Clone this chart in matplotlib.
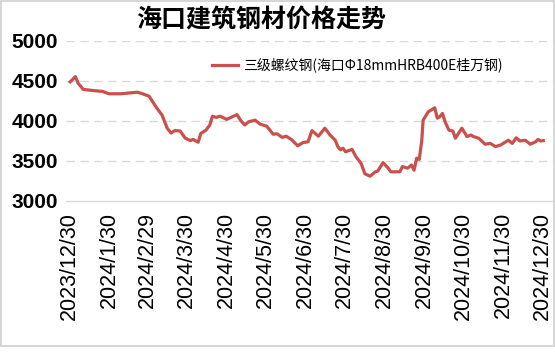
import pandas as pd
import matplotlib
matplotlib.use('Agg')
import matplotlib.pyplot as plt
from matplotlib.patches import Rectangle

plt.rcParams['font.family'] = ['Noto Sans CJK SC', 'DejaVu Sans']

# values
dates = ['2023-12-31', '2024-01-04', '2024-01-06', '2024-01-10', '2024-01-18', '2024-01-25',
         '2024-01-30', '2024-02-08', '2024-02-21', '2024-02-25', '2024-03-01', '2024-03-03',
         '2024-03-07', '2024-03-11', '2024-03-15', '2024-03-18', '2024-03-21', '2024-03-25',
         '2024-03-29', '2024-04-02', '2024-04-04', '2024-04-08', '2024-04-10', '2024-04-14',
         '2024-04-17', '2024-04-19', '2024-04-22', '2024-04-25', '2024-04-30', '2024-05-08',
         '2024-05-11', '2024-05-14', '2024-05-17', '2024-05-22', '2024-05-26', '2024-05-31',
         '2024-06-05', '2024-06-08', '2024-06-12', '2024-06-15', '2024-06-19', '2024-06-24',
         '2024-06-28', '2024-07-02', '2024-07-05', '2024-07-10', '2024-07-15', '2024-07-19',
         '2024-07-23', '2024-07-25', '2024-07-27', '2024-07-29', '2024-07-31', '2024-08-05',
         '2024-08-08', '2024-08-12', '2024-08-15', '2024-08-19', '2024-08-23', '2024-08-25',
         '2024-08-29', '2024-09-02', '2024-09-04', '2024-09-11', '2024-09-13', '2024-09-17',
         '2024-09-20', '2024-09-22', '2024-09-24', '2024-09-26', '2024-09-28', '2024-09-29',
         '2024-10-03', '2024-10-08', '2024-10-10', '2024-10-12', '2024-10-14', '2024-10-16',
         '2024-10-19', '2024-10-22', '2024-10-24', '2024-10-29', '2024-11-02', '2024-11-05',
         '2024-11-07', '2024-11-11', '2024-11-16', '2024-11-20', '2024-11-24', '2024-11-28',
         '2024-12-04', '2024-12-07', '2024-12-10', '2024-12-13', '2024-12-17', '2024-12-21',
         '2024-12-25', '2024-12-27', '2024-12-29', '2024-12-31']
prices = [4490, 4555, 4475, 4395, 4380, 4370,
          4340, 4340, 4360, 4340, 4310, 4260,
          4160, 4075, 3910, 3850, 3880, 3875,
          3785, 3755, 3770, 3735, 3845, 3885,
          3950, 4060, 4045, 4060, 4020, 4080,
          4005, 3950, 3990, 4010, 3960, 3935,
          3835, 3840, 3795, 3810, 3770, 3690,
          3730, 3740, 3880, 3810, 3910, 3825,
          3760, 3680, 3640, 3660, 3615, 3645,
          3555, 3470, 3340, 3310, 3365, 3375,
          3480, 3410, 3365, 3365, 3430, 3410,
          3450, 3385, 3535, 3520, 3760, 4010,
          4115, 4165, 4035, 4055, 4095, 3990,
          3885, 3875, 3785, 3910, 3805, 3825,
          3805, 3785, 3710, 3720, 3680, 3700,
          3760, 3720, 3790, 3750, 3760, 3710,
          3740, 3770, 3750, 3755]
tick_dates = ['2023-12-30', '2024-01-30', '2024-02-29', '2024-03-30', '2024-04-30',
              '2024-05-30', '2024-06-30', '2024-07-30', '2024-08-30', '2024-09-30',
              '2024-10-30', '2024-11-30', '2024-12-30']
tick_labels = ['2023/12/30', '2024/1/30', '2024/2/29', '2024/3/30', '2024/4/30',
               '2024/5/30', '2024/6/30', '2024/7/30', '2024/8/30', '2024/9/30',
               '2024/10/30', '2024/11/30', '2024/12/30']
y_ticks = [3000, 3500, 4000, 4500, 5000]

df = pd.DataFrame({'date': pd.to_datetime(dates), 'price': prices})

fig = plt.figure(figsize=(5.55, 3.56), dpi=100)
fig.patches.append(Rectangle((1 / 555, 1 - 346 / 356), 553 / 555, 345 / 356,
                             transform=fig.transFigure, fill=False,
                             edgecolor='#d0d0d0', linewidth=1.2))
ax = fig.add_axes([66 / 555, 1 - 201 / 356, 487 / 555, 160 / 356])

ax.plot(df['date'], df['price'], color='#c9504b', linewidth=2.3,
        label='三级螺纹钢(海口Φ18mmHRB400E桂万钢)')

start = pd.Timestamp('2023-12-30')
ax.set_xlim(start - pd.Timedelta(days=2.3), start + pd.Timedelta(days=374.5))
ax.set_ylim(3000, 5000)

ax.set_yticks(y_ticks)
ax.set_yticklabels([str(v) for v in y_ticks], fontsize=15, fontweight='bold',
                   family='Liberation Sans')
ax.set_xticks(pd.to_datetime(tick_dates))
ax.set_xticklabels(tick_labels, rotation=90, fontsize=15.5, family='Liberation Sans')
ax.tick_params(axis='both', length=0)
ax.tick_params(axis='x', pad=8)
ax.tick_params(axis='y', pad=6)

for v in y_ticks[1:]:
    ax.axhline(v, color='#d9d9d9', linewidth=1, linestyle=(0, (6, 4)), zorder=0)
for side in ['top', 'right', 'left']:
    ax.spines[side].set_visible(False)
ax.spines['bottom'].set_color('#d9d9d9')
ax.spines['bottom'].set_linewidth(1)

leg = ax.legend(loc='center left', bbox_to_anchor=(212 / 555, 1 - 65 / 356),
                bbox_transform=fig.transFigure, frameon=False, borderpad=0,
                borderaxespad=0, fontsize=10, handlelength=1.85, handletextpad=0.4)

fig.text(261 / 555, 1 - 20 / 356, '海口建筑钢材价格走势', ha='center', va='center',
         fontsize=18, fontweight='bold')

fig.savefig('out.png', dpi=100)
